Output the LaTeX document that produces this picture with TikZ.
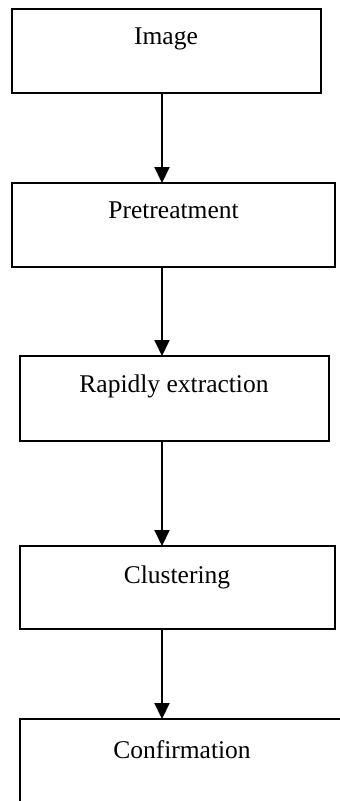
\documentclass[tikz,border=0pt]{standalone}
\usepackage{fontspec}
\setmainfont{Liberation Serif}
\usetikzlibrary{arrows.meta}
\tikzset{
  stagebox/.style={draw=black, line width=1.5pt, fill=white, rectangle, inner sep=0pt, outer sep=0pt},
  stagelabel/.style={anchor=base, inner sep=0pt, font=\fontsize{25.5}{30}\selectfont},
  flow/.style={line width=2pt, -{Triangle[length=16pt, width=15pt]}}
}
\begin{document}
\begin{tikzpicture}[x=1pt, y=-1pt]
\useasboundingbox (0,0) rectangle (340,801);
\clip (0,0) rectangle (340,801);
\fill[white] (0,0) rectangle (340,801);
\coordinate (ax) at (162,0);
% boxes
\node[stagebox, minimum width=309pt, minimum height=84pt] (b1) at (166.5,51) {};
\node[stagebox, minimum width=323pt, minimum height=84pt] (b2) at (173.5,225) {};
\node[stagebox, minimum width=309pt, minimum height=85pt] (b3) at (174.5,398.5) {};
\node[stagebox, minimum width=315pt, minimum height=83pt] (b4) at (177.5,587.5) {};
\node[stagebox, minimum width=330pt, minimum height=101pt] (b5) at (185,769.5) {};
% labels
\node[stagelabel] (t1) at (166,44) {Image};
\node[stagelabel] (t2) at (173.5,218) {Pretreatment};
\node[stagelabel] (t3) at (174,392) {Rapidly extraction};
\node[stagelabel] (t4) at (177,583) {Clustering};
\node[stagelabel] (t5) at (182,758) {Confirmation};
% arrows
\draw[flow] (b1.south -| ax) -- (b2.north -| ax);
\draw[flow] (b2.south -| ax) -- (b3.north -| ax);
\draw[flow] (b3.south -| ax) -- (b4.north -| ax);
\draw[flow] (b4.south -| ax) -- (b5.north -| ax);
\end{tikzpicture}
\end{document}
